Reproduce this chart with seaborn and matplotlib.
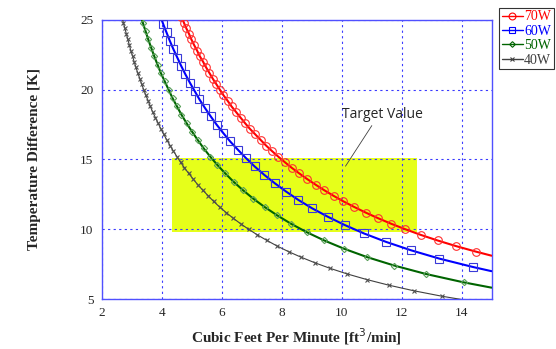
import numpy as np
import pandas as pd
import matplotlib
matplotlib.use("Agg")
import matplotlib.pyplot as plt
from matplotlib.patches import Rectangle
from matplotlib.lines import Line2D
import seaborn as sns

# --- data (first/last points are line ends without markers) ---
x_70w = [4.58, 4.66, 4.74, 4.82, 4.91, 4.99, 5.08, 5.18, 5.27, 5.38, 5.48, 5.59, 5.70, 5.82,
         5.94, 6.06, 6.20, 6.33, 6.48, 6.63, 6.78, 6.94, 7.12, 7.30, 7.48, 7.68, 7.89, 8.11,
         8.34, 8.59, 8.85, 9.13, 9.42, 9.73, 10.06, 10.42, 10.80, 11.21, 11.65, 12.13, 12.64,
         13.20, 13.81, 14.48, 15.00]
y_70w = [25.6, 25.2, 24.8, 24.4, 24.0, 23.6, 23.2, 22.8, 22.4, 22.0, 21.6, 21.2, 20.8, 20.4,
         20.0, 19.6, 19.2, 18.8, 18.4, 18.0, 17.6, 17.2, 16.8, 16.4, 16.0, 15.6, 15.2, 14.8,
         14.4, 14.0, 13.6, 13.2, 12.8, 12.4, 12.0, 11.6, 11.2, 10.8, 10.4, 10.0, 9.6,
         9.2, 8.8, 8.4, 8.11]

x_60w = [3.95, 4.05, 4.16, 4.27, 4.39, 4.52, 4.65, 4.79, 4.94, 5.10, 5.26, 5.44, 5.63, 5.83,
         6.05, 6.28, 6.54, 6.81, 7.10, 7.42, 7.77, 8.15, 8.56, 9.02, 9.54, 10.11, 10.75,
         11.48, 12.31, 13.26, 14.38, 15.00]
y_60w = [25.3, 24.7, 24.1, 23.5, 22.9, 22.3, 21.7, 21.1, 20.5, 19.9, 19.3, 18.7, 18.1, 17.5,
         16.9, 16.3, 15.7, 15.1, 14.5, 13.9, 13.3, 12.7, 12.1, 11.5, 10.9, 10.3, 9.7,
         9.1, 8.5, 7.9, 7.3, 7.00]

x_50w = [3.28, 3.37, 3.46, 3.55, 3.65, 3.75, 3.86, 3.97, 4.10, 4.23, 4.36, 4.51, 4.66, 4.83,
         5.01, 5.20, 5.40, 5.62, 5.86, 6.12, 6.40, 6.71, 7.05, 7.43, 7.85, 8.31, 8.83,
         9.42, 10.09, 10.86, 11.76, 12.81, 14.07, 15.00]
y_50w = [25.4, 24.8, 24.2, 23.6, 23.0, 22.4, 21.8, 21.2, 20.6, 20.0, 19.4, 18.8, 18.2, 17.6,
         17.0, 16.4, 15.8, 15.2, 14.6, 14.0, 13.4, 12.8, 12.2, 11.6, 11.0, 10.4, 9.8,
         9.2, 8.6, 8.0, 7.4, 6.8, 6.2, 5.82]

x_40w = [2.68, 2.72, 2.77, 2.82, 2.87, 2.92, 2.97, 3.03, 3.08, 3.14, 3.20, 3.27, 3.33, 3.40,
         3.47, 3.55, 3.62, 3.70, 3.79, 3.88, 3.97, 4.07, 4.17, 4.28, 4.39, 4.51, 4.63,
         4.76, 4.90, 5.05, 5.20, 5.37, 5.55, 5.73, 5.93, 6.15, 6.38, 6.63, 6.90, 7.19,
         7.51, 7.85, 8.23, 8.65, 9.11, 9.62, 10.19, 10.84, 11.57, 12.40, 13.36, 14.48]
y_40w = [25.2, 24.8, 24.4, 24.0, 23.6, 23.2, 22.8, 22.4, 22.0, 21.6, 21.2, 20.8, 20.4, 20.0,
         19.6, 19.2, 18.8, 18.4, 18.0, 17.6, 17.2, 16.8, 16.4, 16.0, 15.6, 15.2, 14.8,
         14.4, 14.0, 13.6, 13.2, 12.8, 12.4, 12.0, 11.6, 11.2, 10.8, 10.4, 10.0, 9.6,
         9.2, 8.8, 8.4, 8.0, 7.6, 7.2, 6.8, 6.4, 6.0, 5.6, 5.2, 4.8]

series_labels = ["70W", "60W", "50W", "40W"]
target_x = [4.35, 12.5]
target_y = [9.8, 15.1]
x_ticks = [2, 4, 6, 8, 10, 12, 14]
y_ticks = [5, 10, 15, 20, 25]

# --- styles ---
styles = {
    "70W": dict(color="#ff0000", marker="o", ms=5.5, lw=1.5),
    "60W": dict(color="#0000ff", marker="s", ms=5.5, lw=1.5),
    "50W": dict(color="#006400", marker="D", ms=3.2, lw=1.5),
    "40W": dict(color="#404040", marker="x", ms=3.0, lw=0.8),
}
mec = {"70W": "#ff3030", "60W": "#3a3ad8", "50W": "#5aa05a", "40W": "#505050"}

sns.set_style("white")
fig = plt.figure(figsize=(5.56, 3.49), dpi=100)
ax = fig.add_axes([0.183, 0.143, 0.701, 0.800])

grid_col = "#3a3aff"
ax.set_axisbelow("line")
ax.add_patch(Rectangle((target_x[0], target_y[0]), target_x[1] - target_x[0],
                       target_y[1] - target_y[0], facecolor="#e6ff1a", edgecolor="none", zorder=1))

data = {"70W": (x_70w, y_70w), "60W": (x_60w, y_60w),
        "50W": (x_50w, y_50w), "40W": (x_40w, y_40w)}
for lab in series_labels:
    xs, ys = data[lab]
    st = styles[lab]
    df = pd.DataFrame({"x": xs, "y": ys})
    sns.lineplot(data=df, x="x", y="y", ax=ax, sort=False, estimator=None,
                 color=st["color"], lw=st["lw"], marker=st["marker"], markersize=st["ms"],
                 markerfacecolor="none", markeredgecolor=mec[lab], markeredgewidth=0.8,
                 markevery=slice(1, len(xs) - 1), legend=False, zorder=3)

ax.set_xlim(2, 15)
ax.set_ylim(5, 25)
ax.set_xticks(x_ticks)
ax.set_yticks(y_ticks)
ax.grid(True, color=grid_col, linestyle=(0, (2, 3)), linewidth=0.8)
for sp in ax.spines.values():
    sp.set_color("#5050ff")
    sp.set_linewidth(1.0)
ax.tick_params(length=0, pad=6, labelsize=9.5)
for t in ax.get_xticklabels() + ax.get_yticklabels():
    t.set_fontfamily("Liberation Serif")

ax.set_xlabel("Cubic Feet Per Minute [ft$^3$/min]", fontfamily="Liberation Serif",
              fontweight="bold", fontsize=11, labelpad=5)
ax.set_ylabel("Temperature Difference [K]", fontfamily="Liberation Serif",
              fontweight="bold", fontsize=11, labelpad=28)

ax.annotate("Target Value", xy=(10.13, 14.52), xytext=(10.0, 18.2),
            fontfamily="Open Sans", fontsize=10, va="center", ha="left",
            arrowprops=dict(arrowstyle="-", color="#404040", lw=0.6,
                            shrinkA=0, shrinkB=0, relpos=(0.4, 0.0)))

handles = [Line2D([], [], color=styles[l]["color"], lw=1.0, marker=styles[l]["marker"],
                  markersize=styles[l]["ms"] * 0.9, markerfacecolor="none",
                  markeredgecolor=styles[l]["color"], markeredgewidth=0.8)
           for l in series_labels]
leg = fig.legend(handles, series_labels, loc="upper right", bbox_to_anchor=(0.996, 0.978),
                 frameon=True, fancybox=False, edgecolor="black", handlelength=1.5,
                 handletextpad=0.1, borderpad=0.2, labelspacing=0.1, borderaxespad=0.0,
                 numpoints=1, prop={"family": "Liberation Serif", "size": 10})
leg.get_frame().set_linewidth(0.8)
for txt, lab in zip(leg.get_texts(), series_labels):
    txt.set_color(styles[lab]["color"])

fig.savefig("out.png", dpi=100)
